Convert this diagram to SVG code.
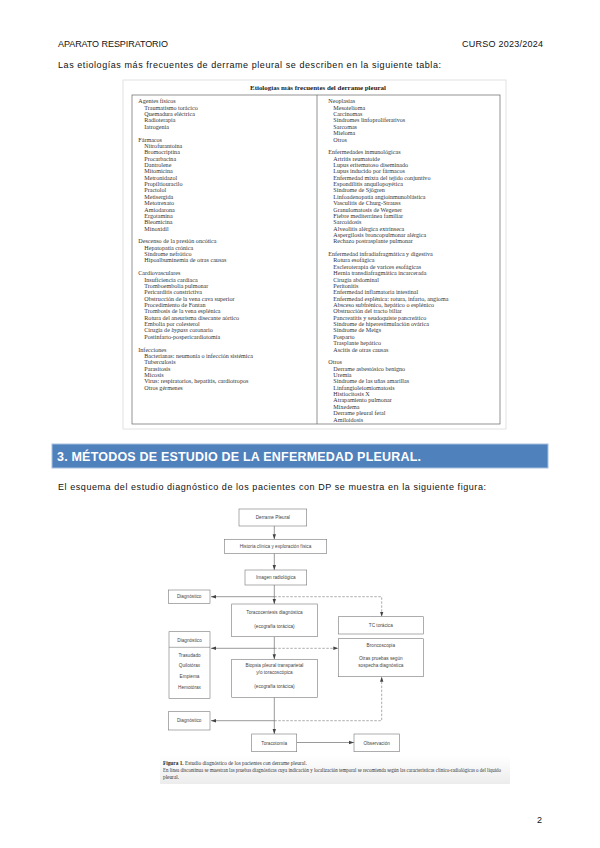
<svg xmlns="http://www.w3.org/2000/svg" width="600" height="848" viewBox="0 0 600 848">
<style>
.body{font-family:"Liberation Sans",Arial,sans-serif;font-size:9px;fill:#111}
.tt{font-family:"Liberation Serif","Times New Roman",serif;font-size:6.1px;fill:#333}
.cl{}
.ttl{font-family:"Liberation Serif","Times New Roman",serif;font-size:6.6px;font-weight:bold;fill:#222}
.box{fill:#fff;stroke:#777;stroke-width:0.6}
.ft{font-family:"Liberation Sans",Arial,sans-serif;font-size:4.7px;fill:#444;text-anchor:middle}
.ftl{font-family:"Liberation Sans",Arial,sans-serif;font-size:4.7px;fill:#444;text-anchor:middle}
.ln{fill:none;stroke:#555;stroke-width:0.6}
.dl{fill:none;stroke:#777;stroke-width:0.6;stroke-dasharray:2.5 1.5}
.cap{font-family:"Liberation Serif","Times New Roman",serif;font-size:5.3px;fill:#333}
</style>
<defs>
<marker id="ah" markerWidth="6" markerHeight="6" refX="5" refY="3" orient="auto" markerUnits="userSpaceOnUse">
<path d="M0,1.3 L5,3 L0,4.7 Z" fill="#444"/>
</marker>
<linearGradient id="capg" x1="0" y1="0" x2="0" y2="1">
<stop offset="0" stop-color="#ffffff"/>
<stop offset="1" stop-color="#ececec"/>
</linearGradient>
</defs>
<rect width="600" height="848" fill="#fff"/>

<g id="header">
<text class="body" x="58" y="47" textLength="110" lengthAdjust="spacing">APARATO RESPIRATORIO</text>
<text class="body" x="462" y="47" textLength="81" lengthAdjust="spacing">CURSO 2023/2024</text>
<text class="body" x="58" y="68" textLength="383" lengthAdjust="spacing">Las etiologías más frecuentes de derrame pleural se describen en la siguiente tabla:</text>
</g>

<g id="table">
<rect x="123" y="80" width="383" height="349" fill="#fff" stroke="#e2e2e2" stroke-width="1"/>
<text class="ttl" x="250" y="90" textLength="136" lengthAdjust="spacingAndGlyphs">Etiologías más frecuentes del derrame pleural</text>
<rect x="132" y="95" width="368" height="329" fill="none" stroke="#666" stroke-width="0.7"/>
<line x1="317" y1="95" x2="317" y2="424" stroke="#666" stroke-width="0.7"/>
<g id="col-left">
<text class="tt" x="138.3" y="103.3">Agentes físicos</text>
<text class="tt" x="144.3" y="109.7">Traumatismo torácico</text>
<text class="tt" x="144.3" y="116.1">Quemadura eléctrica</text>
<text class="tt" x="144.3" y="122.4">Radioterapia</text>
<text class="tt" x="144.3" y="128.8">Iatrogenia</text>
<text class="tt" x="138.3" y="141.5">Fármacos</text>
<text class="tt" x="144.3" y="147.9">Nitrofurantoína</text>
<text class="tt" x="144.3" y="154.2">Bromocriptina</text>
<text class="tt" x="144.3" y="160.6">Procarbacina</text>
<text class="tt" x="144.3" y="167.0">Dantrolene</text>
<text class="tt" x="144.3" y="173.3">Mitomicina</text>
<text class="tt" x="144.3" y="179.7">Metronidazol</text>
<text class="tt" x="144.3" y="186.0">Propiltiouracilo</text>
<text class="tt" x="144.3" y="192.4">Practolol</text>
<text class="tt" x="144.3" y="198.8">Metisergida</text>
<text class="tt" x="144.3" y="205.1">Metotrexato</text>
<text class="tt" x="144.3" y="211.5">Amiodarona</text>
<text class="tt" x="144.3" y="217.9">Ergotamina</text>
<text class="tt" x="144.3" y="224.2">Bleomicina</text>
<text class="tt" x="144.3" y="230.6">Minoxidil</text>
<text class="tt" x="138.3" y="243.3">Descenso de la presión oncótica</text>
<text class="tt" x="144.3" y="249.7">Hepatopatía crónica</text>
<text class="tt" x="144.3" y="256.0">Síndrome nefrótico</text>
<text class="tt" x="144.3" y="262.4">Hipoalbuminemia de otras causas</text>
<text class="tt" x="138.3" y="275.1">Cardiovasculares</text>
<text class="tt" x="144.3" y="281.5">Insuficiencia cardíaca</text>
<text class="tt" x="144.3" y="287.9">Tromboembolia pulmonar</text>
<text class="tt" x="144.3" y="294.2">Pericarditis constrictiva</text>
<text class="tt" x="144.3" y="300.6">Obstrucción de la vena cava superior</text>
<text class="tt" x="144.3" y="306.9">Procedimiento de Fontan</text>
<text class="tt" x="144.3" y="313.3">Trombosis de la vena esplénica</text>
<text class="tt" x="144.3" y="319.7">Rotura del aneurisma disecante aórtico</text>
<text class="tt" x="144.3" y="326.0">Embolia por colesterol</text>
<text class="tt" x="144.3" y="332.4">Cirugía de <tspan font-style="italic">bypass</tspan> coronario</text>
<text class="tt" x="144.3" y="338.8">Postinfarto-pospericardiotomía</text>
<text class="tt" x="138.3" y="351.5">Infecciones</text>
<text class="tt" x="144.3" y="357.9">Bacterianas: neumonía o infección sistémica</text>
<text class="tt" x="144.3" y="364.2">Tuberculosis</text>
<text class="tt" x="144.3" y="370.6">Parasitosis</text>
<text class="tt" x="144.3" y="376.9">Micosis</text>
<text class="tt" x="144.3" y="383.3">Virus: respiratorios, hepatitis, cardiotropos</text>
<text class="tt" x="144.3" y="389.7">Otros gérmenes</text>
</g>
<g id="col-right">
<text class="tt" x="328.3" y="103.3">Neoplasias</text>
<text class="tt" x="333.3" y="109.7">Mesotelioma</text>
<text class="tt" x="333.3" y="116.1">Carcinomas</text>
<text class="tt" x="333.3" y="122.4">Síndromes linfoproliferativos</text>
<text class="tt" x="333.3" y="128.8">Sarcomas</text>
<text class="tt" x="333.3" y="135.1">Mieloma</text>
<text class="tt" x="333.3" y="141.5">Otros</text>
<text class="tt" x="328.3" y="154.2">Enfermedades inmunológicas</text>
<text class="tt" x="333.3" y="160.6">Artritis reumatoide</text>
<text class="tt" x="333.3" y="167.0">Lupus eritematoso diseminado</text>
<text class="tt" x="333.3" y="173.3">Lupus inducido por fármacos</text>
<text class="tt" x="333.3" y="179.7">Enfermedad mixta del tejido conjuntivo</text>
<text class="tt" x="333.3" y="186.0">Espondilitis anquilopoyética</text>
<text class="tt" x="333.3" y="192.4">Síndrome de Sjögren</text>
<text class="tt" x="333.3" y="198.8">Linfoadenopatía angioinmunoblástica</text>
<text class="tt" x="333.3" y="205.1">Vasculitis de Churg-Strauss</text>
<text class="tt" x="333.3" y="211.5">Granulomatosis de Wegener</text>
<text class="tt" x="333.3" y="217.9">Fiebre mediterránea familiar</text>
<text class="tt" x="333.3" y="224.2">Sarcoidosis</text>
<text class="tt" x="333.3" y="230.6">Alveolitis alérgica extrínseca</text>
<text class="tt" x="333.3" y="236.9">Aspergilosis broncopulmonar alérgica</text>
<text class="tt" x="333.3" y="243.3">Rechazo postrasplante pulmonar</text>
<text class="tt" x="328.3" y="256.0">Enfermedad infradiafragmática y digestiva</text>
<text class="tt" x="333.3" y="262.4">Rotura esofágica</text>
<text class="tt" x="333.3" y="268.8">Escleroterapia de varices esofágicas</text>
<text class="tt" x="333.3" y="275.1">Hernia transdiafragmática incarcerada</text>
<text class="tt" x="333.3" y="281.5">Cirugía abdominal</text>
<text class="tt" x="333.3" y="287.9">Peritonitis</text>
<text class="tt" x="333.3" y="294.2">Enfermedad inflamatoria intestinal</text>
<text class="tt" x="333.3" y="300.6">Enfermedad esplénica: rotura, infarto, angioma</text>
<text class="tt" x="333.3" y="306.9">Absceso subfrénico, hepático o esplénico</text>
<text class="tt" x="333.3" y="313.3">Obstrucción del tracto biliar</text>
<text class="tt" x="333.3" y="319.7">Pancreatitis y seudoquiste pancreático</text>
<text class="tt" x="333.3" y="326.0">Síndrome de hiperestimulación ovárica</text>
<text class="tt" x="333.3" y="332.4">Síndrome de Meigs</text>
<text class="tt" x="333.3" y="338.8">Posparto</text>
<text class="tt" x="333.3" y="345.1">Trasplante hepático</text>
<text class="tt" x="333.3" y="351.5">Ascitis de otras causas</text>
<text class="tt" x="328.3" y="364.2">Otros</text>
<text class="tt" x="333.3" y="370.6">Derrame asbestósico benigno</text>
<text class="tt" x="333.3" y="376.9">Uremia</text>
<text class="tt" x="333.3" y="383.3">Síndrome de las uñas amarillas</text>
<text class="tt" x="333.3" y="389.7">Linfangioleiomiomatosis</text>
<text class="tt" x="333.3" y="396.0">Histiocitosis X</text>
<text class="tt" x="333.3" y="402.4">Atrapamiento pulmonar</text>
<text class="tt" x="333.3" y="408.8">Mixedema</text>
<text class="tt" x="333.3" y="415.1">Derrame pleural fetal</text>
<text class="tt" x="333.3" y="421.5">Amiloidosis</text>
</g>
</g>

<g id="section-heading">
<rect x="52" y="444" width="496" height="24" fill="#4f81bd" stroke="#a7c0de" stroke-width="1"/>
<text x="57" y="461" font-family="'Liberation Sans',Arial,sans-serif" font-size="12.5" font-weight="bold" fill="#fff" textLength="364" lengthAdjust="spacing">3. MÉTODOS DE ESTUDIO DE LA ENFERMEDAD PLEURAL.</text>
</g>

<text class="body" x="58" y="490" textLength="428" lengthAdjust="spacing">El esquema del estudio diagnóstico de los pacientes con DP se muestra en la siguiente figura:</text>

<g id="figure">
<g id="connectors">
<line class="ln" x1="274.3" y1="526" x2="274.3" y2="539.3" marker-end="url(#ah)"/>
<line class="ln" x1="274.3" y1="553.3" x2="274.3" y2="570" marker-end="url(#ah)"/>
<line class="ln" x1="274.3" y1="585" x2="274.3" y2="604" marker-end="url(#ah)"/>
<line class="ln" x1="274.3" y1="596.7" x2="211" y2="596.7" marker-end="url(#ah)"/>
<path class="dl" d="M274.3,596.7 H381.7 V616.7" marker-end="url(#ah)"/>
<line class="ln" x1="274.3" y1="636.7" x2="274.3" y2="659.3" marker-end="url(#ah)"/>
<line class="ln" x1="274.3" y1="648.3" x2="211" y2="648.3" marker-end="url(#ah)"/>
<line class="dl" x1="274.3" y1="648.3" x2="338.3" y2="648.3" marker-end="url(#ah)"/>
<line class="ln" x1="274.3" y1="697.3" x2="274.3" y2="734" marker-end="url(#ah)"/>
<line class="ln" x1="274.3" y1="720.7" x2="211" y2="720.7" marker-end="url(#ah)"/>
<path class="dl" d="M274.3,720.7 H381.7 V676.7" marker-end="url(#ah)"/>
<line class="ln" x1="296.7" y1="742.5" x2="354" y2="742.5" marker-end="url(#ah)"/>
</g>
<g id="n-derrame"><rect class="box" x="239" y="509" width="67.7" height="17"/><text class="ft" x="272.8" y="519">Derrame Pleural</text></g>
<g id="n-historia"><rect class="box" x="224.3" y="539.3" width="102.4" height="14"/><text class="ft" x="275.5" y="548">Historia clínica  y exploración física</text></g>
<g id="n-imagen"><rect class="box" x="245" y="570" width="61.7" height="15"/><text class="ft" x="275.8" y="579.2">Imagen radiológica</text></g>
<g id="n-diag1"><rect class="box" x="168.3" y="590" width="41.7" height="13.3"/><text class="ft" x="189.2" y="598.3">Diagnóstico</text></g>
<g id="n-toraco"><rect class="box" x="231.7" y="604" width="85.6" height="32.7"/><text class="ft" x="274.5" y="614.3">Toracocentesis diagnóstica</text><text class="ft" x="274.5" y="627.6">(ecografía torácica)</text></g>
<g id="n-tc"><rect class="box" x="338.3" y="616.7" width="85" height="17.3"/><text class="ft" x="380.8" y="627">TC torácica</text></g>
<g id="n-bronco"><rect class="box" x="338.3" y="638.7" width="85" height="38"/><text class="ft" x="380.8" y="647">Broncoscopia</text><text class="ft" x="380.8" y="660">Otras pruebas según</text><text class="ft" x="380.8" y="667">sospecha diagnóstica</text></g>
<g id="n-diag2"><rect class="box" x="169" y="631.7" width="41" height="66.6"/><line x1="169" y1="647.3" x2="210" y2="647.3" stroke="#777" stroke-width="0.6"/><text class="ft" x="189.5" y="641.7">Diagnóstico</text><text class="ft" x="189.5" y="656.7">Trasudado</text><text class="ft" x="189.5" y="667.4">Quilotórax</text><text class="ft" x="189.5" y="678.4">Empiema</text><text class="ft" x="189.5" y="689">Hemotórax</text></g>
<g id="n-biopsia"><rect class="box" x="231.7" y="659.3" width="85.6" height="38"/><text class="ft" x="274.5" y="666.7">Biopsia pleural transparietal</text><text class="ft" x="274.5" y="674.4">y/o toracoscópica</text><text class="ft" x="274.5" y="688.4">(ecografía torácica)</text></g>
<g id="n-diag3"><rect class="box" x="168.3" y="711.7" width="41.7" height="18.3"/><text class="ft" x="189.2" y="722.4">Diagnóstico</text></g>
<g id="n-toracotomia"><rect class="box" x="251.7" y="734" width="45" height="17.7"/><text class="ft" x="274.2" y="744.5">Toracotomía</text></g>
<g id="n-observacion"><rect class="box" x="354" y="734" width="45.3" height="17.7"/><text class="ft" x="376.7" y="744.5">Observación</text></g>
<g id="caption">
<rect x="160" y="756" width="350" height="28" fill="url(#capg)"/>
<text class="cap" x="163" y="765"><tspan font-weight="bold" fill="#222">Figura 1.</tspan> Estudio diagnóstico de los pacientes con derrame pleural.</text>
<text class="cap" x="163" y="772" textLength="338" lengthAdjust="spacingAndGlyphs">En línea discontinua se muestran las pruebas diagnósticas cuya indicación y localización temporal se recomienda según las características clínico-radiológicas o del líquido</text>
<text class="cap" x="163" y="779">pleural.</text>
</g>
</g>

<text class="body" x="537" y="823">2</text>
</svg>
